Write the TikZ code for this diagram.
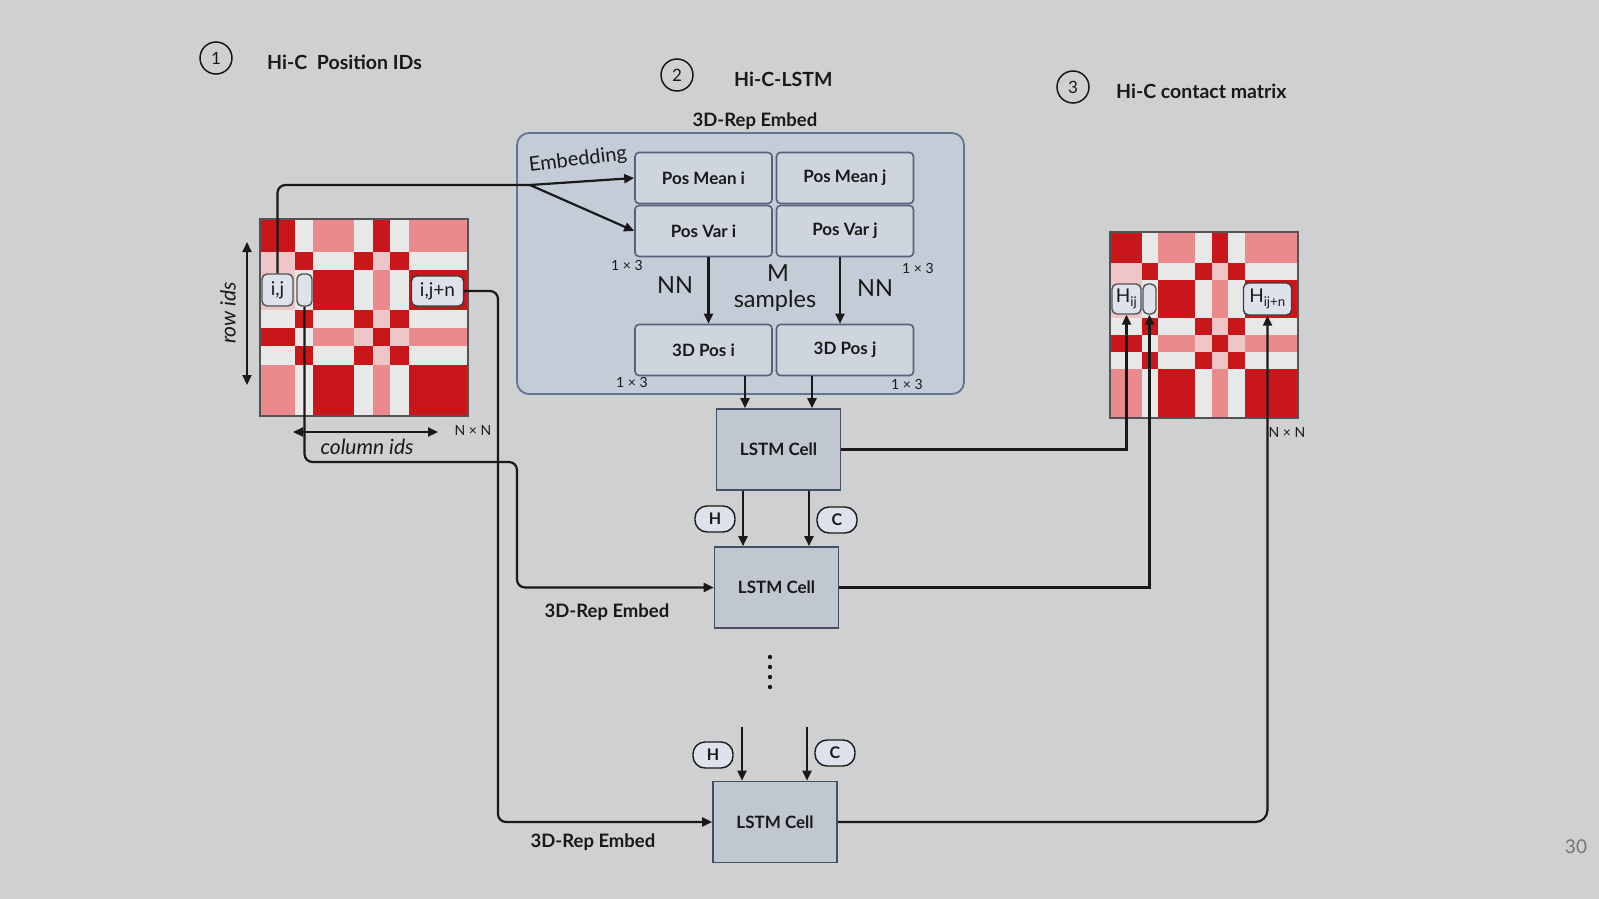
\documentclass[tikz,border=0pt]{standalone}
\usepackage{fontspec}
\setmainfont{Lato}
\usetikzlibrary{arrows.meta,calc}
\definecolor{bg}{RGB}{206,208,209}
\definecolor{mD}{RGB}{200,22,26}
\definecolor{mP}{RGB}{234,138,140}
\definecolor{mL}{RGB}{238,198,200}
\definecolor{mW}{RGB}{232,232,232}
\definecolor{boxfill}{RGB}{206,213,223}
\definecolor{boxline}{RGB}{84,98,122}
\definecolor{outerfill}{RGB}{196,204,215}
\definecolor{outerline}{RGB}{100,116,142}
\definecolor{cellfill}{RGB}{192,199,208}
\definecolor{labfill}{RGB}{222,227,235}
\definecolor{ink}{RGB}{25,25,25}
\def\cfr{{0,0.168,0.256,0.451,0.541,0.627,0.717,1}}
\def\rfr{{0,0.168,0.26,0.462,0.555,0.647,0.739,1}}
\newcommand\drawHiC[4]{%
 \begin{scope}[shift={(#1,#2)}, x=#3pt, y=-#4pt]
 \foreach \rowlist [count=\ri] in {%
   {mD,mW,mP,mW,mD,mW,mP},
   {mL,mD,mW,mD,mL,mD,mW},
   {mL,mW,mD,mW,mP,mW,mD},
   {mW,mD,mW,mD,mL,mD,mW},
   {mD,mW,mP,mL,mD,mL,mP},
   {mW,mD,mW,mD,mL,mD,mW},
   {mP,mW,mD,mW,mP,mW,mD}}{%
   \foreach \cc [count=\ci] in \rowlist {%
     \pgfmathsetmacro\xa{\cfr[\ci-1]}%
     \pgfmathsetmacro\xb{\cfr[\ci]}%
     \pgfmathsetmacro\ya{\rfr[\ri-1]}%
     \pgfmathsetmacro\yb{\rfr[\ri]}%
     \fill[\cc] (\xa,\ya) rectangle (\xb,\yb);
   }}
 \draw[ink!75, line width=1.2pt] (0,0) rectangle (1,1);
 \end{scope}}
\tikzset{
 conn/.style={draw=ink, line width=2.2pt},
 arr/.style={conn, -{Triangle[length=10pt,width=9pt]}},
 dblarr/.style={conn, {Triangle[length=10pt,width=9pt]}-{Triangle[length=10pt,width=9pt]}},
 posbox/.style={draw=boxline, fill=boxfill, line width=1.6pt, rounded corners=4pt, minimum width=137pt, minimum height=51pt, inner sep=0pt, text=ink, font=\bfseries\fontsize{17}{20}\selectfont},
 outerbox/.style={draw=outerline, fill=outerfill, line width=1.8pt, rounded corners=12pt, minimum width=447pt, minimum height=261pt, inner sep=0pt},
 cellbox/.style={draw=boxline!80!black, fill=cellfill, line width=1.6pt, minimum width=124pt, minimum height=81pt, inner sep=0pt, text=ink, font=\bfseries\fontsize{17}{20}\selectfont},
 hcoval/.style={draw=ink, fill=labfill, line width=1.4pt, rounded corners=12pt, minimum width=40pt, minimum height=26pt, inner sep=0pt, text=ink, font=\bfseries\fontsize{16}{18}\selectfont},
 lablbox/.style={draw=ink!75, fill=labfill, line width=1.4pt, rounded corners=5pt, inner sep=0pt, text=ink, font=\fontsize{19}{20}\selectfont},
 numc/.style={circle, draw=ink, line width=1.5pt, minimum size=32pt, inner sep=0pt, text=ink, font=\fontsize{17}{19}\selectfont},
 ttl/.style={anchor=west, inner sep=0pt, text=ink, font=\bfseries\fontsize{19.5}{22}\selectfont},
 diml/.style={inner sep=0pt, text=ink, font=\fontsize{14}{15}\selectfont},
 nnl/.style={inner sep=0pt, text=ink, font=\fontsize{23.5}{26}\selectfont},
 embl/.style={inner sep=0pt, text=ink, font=\bfseries\fontsize{18.5}{20}\selectfont},
 embtxt/.style={inner sep=0pt, text=ink, font=\fontsize{20}{22}\selectfont},
 axl/.style={inner sep=0pt, text=ink, font=\itshape\fontsize{21}{22}\selectfont},
 pgnum/.style={inner sep=0pt, text=ink!60, font=\fontsize{19}{20}\selectfont}
}
\begin{document}
\begin{tikzpicture}[x=1pt,y=-1pt]
\fill[bg] (0,0) rectangle (1599,899);
\useasboundingbox (0,0) rectangle (1599,899);

% titles
\node[numc] (n1) at (216,58) {1};
\node[ttl] (t1) at (267,62) {Hi-C\enspace Position IDs};
\node[numc] (n2) at (677,75) {2};
\node[ttl] (t2) at (734,79) {Hi-C-LSTM};
\node[numc] (n3) at (1073,87) {3};
\node[ttl] (t3) at (1116,91) {Hi-C contact matrix};

% matrices
\drawHiC{260}{219}{208}{197}
\drawHiC{1110}{232}{188}{186}

% left matrix labels
\node[lablbox, minimum width=31pt, minimum height=32pt] (ij) at (277.5,290) {i,j};
\node[lablbox, minimum width=15pt, minimum height=32pt] (colj) at (304.5,290) {};
\node[lablbox, draw=ink!85, minimum width=52pt, minimum height=30pt] (ijn) at (437.5,291) {i,j+n};

% right matrix labels
\node[lablbox, minimum width=29pt, minimum height=30pt] (hij) at (1126.5,299) {H\textsubscript{ij}};
\node[lablbox, minimum width=13pt, minimum height=30pt] (hcol) at (1149.5,299) {};
\node[lablbox, draw=ink!85, minimum width=48pt, minimum height=32pt] (hijn) at (1267.5,299) {H\textsubscript{ij+n}};

% axes
\coordinate (ra1) at (247,242);
\coordinate (ra2) at (247,385);
\draw[dblarr] (ra1) -- (ra2);
\node[axl, rotate=90] (rowl) at (228,313) {row ids};
\coordinate (ca1) at (293,432);
\coordinate (ca2) at (438,432);
\draw[dblarr] (ca1) -- (ca2);
\node[axl] (coll) at (367,447) {column ids};
\node[diml] (nxn1) at (473,430) {N × N};
\node[diml] (nxn2) at (1287,432) {N × N};

% 3D-Rep Embed box
\node[outerbox] (rep) at (740.5,263.5) {};
\node[embl] (reptitle) at (755,121) {3D-Rep Embed};
\node[posbox] (pmi) at (703.5,178) {Pos Mean i};
\node[posbox] (pmj) at (845,178) {Pos Mean j};
\node[posbox] (pvi) at (703.5,231) {Pos Var i};
\node[posbox] (pvj) at (845,231) {Pos Var j};
\node[posbox] (p3i) at (703.5,350) {3D Pos i};
\node[posbox] (p3j) at (845,350) {3D Pos j};
\node[diml] (d1) at (627,265) {1 × 3};
\node[diml] (d2) at (918,268) {1 × 3};
\node[diml] (d3) at (632,382) {1 × 3};
\node[diml] (d4) at (907,384) {1 × 3};
\node[nnl] (nn1) at (675,285) {NN};
\node[nnl] (nn2) at (875,288) {NN};
\node[nnl] (mm) at (778,273) {M};
\node[nnl] (smp) at (775,301) {samples};
\draw[arr] ([xshift=5pt]pvi.south) -- ([xshift=5pt]p3i.north);
\draw[arr] ([xshift=-5pt]pvj.south) -- ([xshift=-5pt]p3j.north);

% embedding connector
\coordinate (br) at (530,185);
\draw[conn, rounded corners=8pt] (ij.north) |- (br);
\draw[arr] (br) -- (pmi.west);
\draw[arr] (br) -- (pvi.west);
\node[embtxt, rotate=7] (emb) at (578,160) {Embedding};

% LSTM cells
\node[cellbox] (l1) at (778.5,449.5) {LSTM Cell};
\node[cellbox] (l2) at (776.5,587.5) {LSTM Cell};
\node[cellbox] (l3) at (775,822) {LSTM Cell};

\coordinate (a1) at ([xshift=-33.5pt]l1.north);
\coordinate (a2) at ([xshift=33.5pt]l1.north);
\draw[arr] (a1 |- p3i.south) -- (a1);
\draw[arr] (a2 |- p3j.south) -- (a2);

\coordinate (h1) at ([xshift=-35.5pt]l1.south);
\coordinate (c1) at ([xshift=30.5pt]l1.south);
\draw[arr] (h1) -- (h1 |- l2.north);
\draw[arr] (c1) -- (c1 |- l2.north);
\node[hcoval] (H1) at (715,519) {H};
\node[hcoval] (C1) at (837,520) {C};

\foreach \yy in {657,667,677,687} \fill[ink] (770,\yy) circle (2.2);

\coordinate (h3) at (742,727);
\coordinate (c3) at (807,727);
\draw[arr] (h3) -- (h3 |- l3.north);
\draw[arr] (c3) -- (c3 |- l3.north);
\node[hcoval] (H3) at (713,755) {H};
\node[hcoval] (C3) at (835,753) {C};

% left connectors to LSTM cells
\coordinate (b1) at (517,462);
\draw[arr, rounded corners=8pt] (colj.south) |- (b1) |- (l2.west);
\node[embl] (re2) at (607,612) {3D-Rep Embed};
\coordinate (b2) at (498,822);
\draw[arr, rounded corners=8pt] (ijn.east) -| (b2) -- (l3.west);
\node[embl] (re3) at (593,842) {3D-Rep Embed};

% outputs to contact matrix
\draw[arr] (l1.east) -| (hij.south);
\draw[arr] (l2.east) -| (hcol.south);
\draw[arr, rounded corners=12pt] (l3.east) -| (hijn.south);

\node[pgnum] (pg) at (1576,847) {30};
\end{tikzpicture}
\end{document}
